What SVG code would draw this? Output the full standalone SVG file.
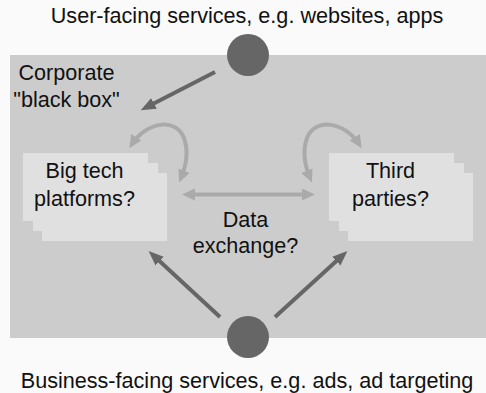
<svg xmlns="http://www.w3.org/2000/svg" width="486" height="393" viewBox="0 0 486 393">
  <style>
    text { font-family: "Liberation Sans", Arial, sans-serif; font-size: 21.6px; fill: #111; text-anchor: middle; }
    .card { fill: #e0e0e0; }
    .flow { fill: none; stroke: #666; stroke-width: 4; }
    .loop { fill: none; stroke: #aaa; stroke-width: 4; }
  </style>
  <defs>
    <marker id="darkHead" markerUnits="userSpaceOnUse" markerWidth="16" markerHeight="14" refX="9" refY="6" orient="auto">
      <path d="M0,0 L15,6 L0,12 z" fill="#666"/>
    </marker>
    <marker id="lightHead" markerUnits="userSpaceOnUse" markerWidth="16" markerHeight="14" refX="8" refY="6" orient="auto-start-reverse">
      <path d="M0,0 L13,6 L0,12 z" fill="#aaa"/>
    </marker>
  </defs>

  <rect width="486" height="393" fill="#fafafa"/>

  <!-- corporate box -->
  <g id="corporate">
    <rect x="10" y="55" width="476" height="283" fill="#cccccc"/>
    <text x="66.5" y="80">Corporate</text>
    <text x="66.5" y="106.5">"black box"</text>
  </g>

  <g id="user-services">
    <text x="247" y="23">User-facing services, e.g. websites, apps</text>
    <circle cx="248" cy="55" r="21" fill="#666"/>
  </g>

  <g id="business-services">
    <circle cx="248" cy="337" r="21" fill="#666"/>
    <text x="247" y="388">Business-facing services, e.g. ads, ad targeting</text>
  </g>

  <g id="big-tech">
    <rect class="card" x="42" y="173" width="125" height="68"/>
    <rect class="card" x="33" y="163" width="125" height="68"/>
    <rect class="card" x="23" y="153" width="125" height="68"/>
    <text x="84.5" y="178">Big tech</text>
    <text x="84.5" y="206">platforms?</text>
  </g>

  <g id="third-parties">
    <rect class="card" x="348" y="173" width="125" height="68"/>
    <rect class="card" x="339" y="163" width="125" height="68"/>
    <rect class="card" x="329" y="153" width="125" height="68"/>
    <text x="390.5" y="178">Third</text>
    <text x="390.5" y="206">parties?</text>
  </g>

  <g id="data-exchange">
    <text x="245.5" y="227">Data</text>
    <text x="245.5" y="253">exchange?</text>
  </g>

  <g id="connectors">
    <line class="flow" x1="215" y1="72" x2="146" y2="107.5" marker-end="url(#darkHead)"/>
    <line class="flow" x1="220" y1="317" x2="153" y2="255" marker-end="url(#darkHead)"/>
    <line class="flow" x1="275" y1="317" x2="343" y2="255" marker-end="url(#darkHead)"/>
    <line class="loop" x1="187" y1="194.5" x2="310" y2="194.5" marker-start="url(#lightHead)" marker-end="url(#lightHead)"/>
    <path class="loop" d="M132,144 C146,122 176,117 184,138 C189,152 186,166 181,178" marker-start="url(#lightHead)" marker-end="url(#lightHead)"/>
    <path class="loop" d="M359,144 C345,122 315,117 307,138 C302,152 305,166 310,178" marker-start="url(#lightHead)" marker-end="url(#lightHead)"/>
  </g>
</svg>
